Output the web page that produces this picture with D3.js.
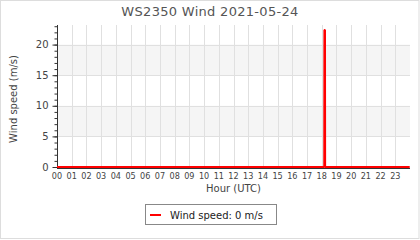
<!DOCTYPE html>
<html>
<head>
<meta charset="utf-8">
<script src="https://cdn.jsdelivr.net/npm/d3@7"></script>
<style>
  body { margin: 0; background: #fff; }
  svg { display: block; font-family: "DejaVu Sans", sans-serif; }
</style>
</head>
<body>
<div id="chart"></div>
<script>
const MARGIN = { TOP: 25, RIGHT: 10, BOTTOM: 73, LEFT: 57 };
const WIDTH = 420;
const HEIGHT = 240;

// data
const chartTitle = "WS2350 Wind 2021-05-24";
const hourLabels = ["00","01","02","03","04","05","06","07","08","09","10","11",
                    "12","13","14","15","16","17","18","19","20","21","22","23"];
const hourTicks = [0,1,2,3,4,5,6,7,8,9,10,11,12,13,14,15,16,17,18,19,20,21,22,23];
const speedTicks = [0, 5, 10, 15, 20];
const shadedBands = [[5, 10], [15, 20]];
const windTimes = [0, 18.17, 18.18, 18.22, 18.23, 23.98];   // hours UTC
const windSpeeds = [0, 0, 22.4, 22.4, 0, 0];                 // m/s
const legendText = "Wind speed: 0 m/s";

var svg = d3.select("div#chart").append("svg")
    .attr("width", WIDTH)
    .attr("height", HEIGHT);

// outer frame
svg.append("rect")
    .attr("x", 0.5).attr("y", 0.5)
    .attr("width", WIDTH - 1.5).attr("height", HEIGHT - 2)
    .attr("fill", "#fff")
    .attr("stroke", "#ddd");

var x = d3.scaleLinear([0, 24], [MARGIN.LEFT, WIDTH - MARGIN.RIGHT]);
var y = d3.scaleLinear([0, 23.2], [HEIGHT - MARGIN.BOTTOM, MARGIN.TOP]);

// alternating bands
svg.selectAll("rect.band").data(shadedBands)
    .join("rect")
    .attr("class", "band")
    .attr("x", x(0))
    .attr("width", x(24) - x(0))
    .attr("y", d => y(d[1]))
    .attr("height", d => y(d[0]) - y(d[1]))
    .attr("fill", "#f5f5f5");

// grid
svg.selectAll("line.vgrid").data(hourTicks.slice(1))
    .join("line")
    .attr("class", "vgrid")
    .attr("x1", d => Math.round(x(d)) + 0.5)
    .attr("x2", d => Math.round(x(d)) + 0.5)
    .attr("y1", y.range()[1])
    .attr("y2", y(0))
    .attr("stroke", "#e0e0e0");

svg.selectAll("line.hgrid").data(speedTicks.slice(1))
    .join("line")
    .attr("class", "hgrid")
    .attr("x1", x(0))
    .attr("x2", x(24))
    .attr("y1", d => Math.round(y(d)) + 0.5)
    .attr("y2", d => Math.round(y(d)) + 0.5)
    .attr("stroke", "#e0e0e0");

// y axis with minor ticks
var yAxis = svg.append("g")
    .attr("transform", `translate(${x(0) + 0.5},0)`);
yAxis.call(d3.axisLeft(y).tickValues(d3.range(0, 24)).tickSize(3).tickFormat(""));
yAxis.call(g => g.selectAll(".tick line").attr("stroke", "#333"));
yAxis.select(".domain").attr("stroke", "#333").attr("d", `M0,${y.range()[1]}V${y(0) + 1.5}`);

var yMajor = svg.append("g")
    .attr("transform", `translate(${x(0) + 0.5},0)`)
    .call(d3.axisLeft(y).tickValues(speedTicks).tickSize(5).tickPadding(4));
yMajor.select(".domain").remove();
yMajor.selectAll(".tick line").attr("stroke", "#333");
yMajor.selectAll(".tick text")
    .attr("fill", "#444")
    .style("font-size", "10px")
    .style("font-family", "DejaVu Sans");

// x axis line
svg.append("line")
    .attr("x1", x(0)).attr("x2", x(24))
    .attr("y1", y(0) + 1.5).attr("y2", y(0) + 1.5)
    .attr("stroke", "#333");

svg.selectAll("text.hour").data(hourTicks)
    .join("text")
    .attr("class", "hour")
    .attr("x", d => x(d))
    .attr("y", y(0) + 12)
    .attr("text-anchor", "middle")
    .attr("fill", "#444")
    .style("font-family", "DejaVu Sans Condensed")
    .style("font-size", "9px")
    .text((d, i) => hourLabels[i]);

// series
const lineFunc = d3.line()
    .x(d => x(d[0]))
    .y(d => y(d[1]));

svg.append("path")
    .attr("d", lineFunc(windTimes.map((t, i) => [t, windSpeeds[i]])))
    .attr("fill", "none")
    .attr("stroke", "#ff0000")
    .attr("stroke-width", 2)
    .attr("stroke-linejoin", "bevel");

// titles
svg.append("text")
    .attr("x", WIDTH / 2)
    .attr("y", 16)
    .attr("text-anchor", "middle")
    .attr("fill", "#555")
    .style("font-size", "13px")
    .style("letter-spacing", "0.3px")
    .text(chartTitle);

svg.append("text")
    .attr("transform", `translate(17,${(y.range()[0] + y.range()[1]) / 2 + 3}) rotate(-90)`)
    .attr("text-anchor", "middle")
    .attr("fill", "#444")
    .style("font-size", "10px")
    .text("Wind speed (m/s)");

svg.append("text")
    .attr("x", (x(0) + x(24)) / 2)
    .attr("y", 192)
    .attr("text-anchor", "middle")
    .attr("fill", "#444")
    .style("font-size", "10px")
    .text("Hour (UTC)");

// legend
var legend = svg.append("g");
legend.append("rect")
    .attr("x", 145.5).attr("y", 204.5)
    .attr("width", 131).attr("height", 20)
    .attr("fill", "#fff")
    .attr("stroke", "#888");
legend.append("line")
    .attr("x1", 150).attr("x2", 161)
    .attr("y1", 215).attr("y2", 215)
    .attr("stroke", "#ff0000")
    .attr("stroke-width", 2);
legend.append("text")
    .attr("x", 170)
    .attr("y", 218.5)
    .attr("fill", "#222")
    .style("font-size", "10px")
    .text(legendText);
</script>
</body>
</html>
